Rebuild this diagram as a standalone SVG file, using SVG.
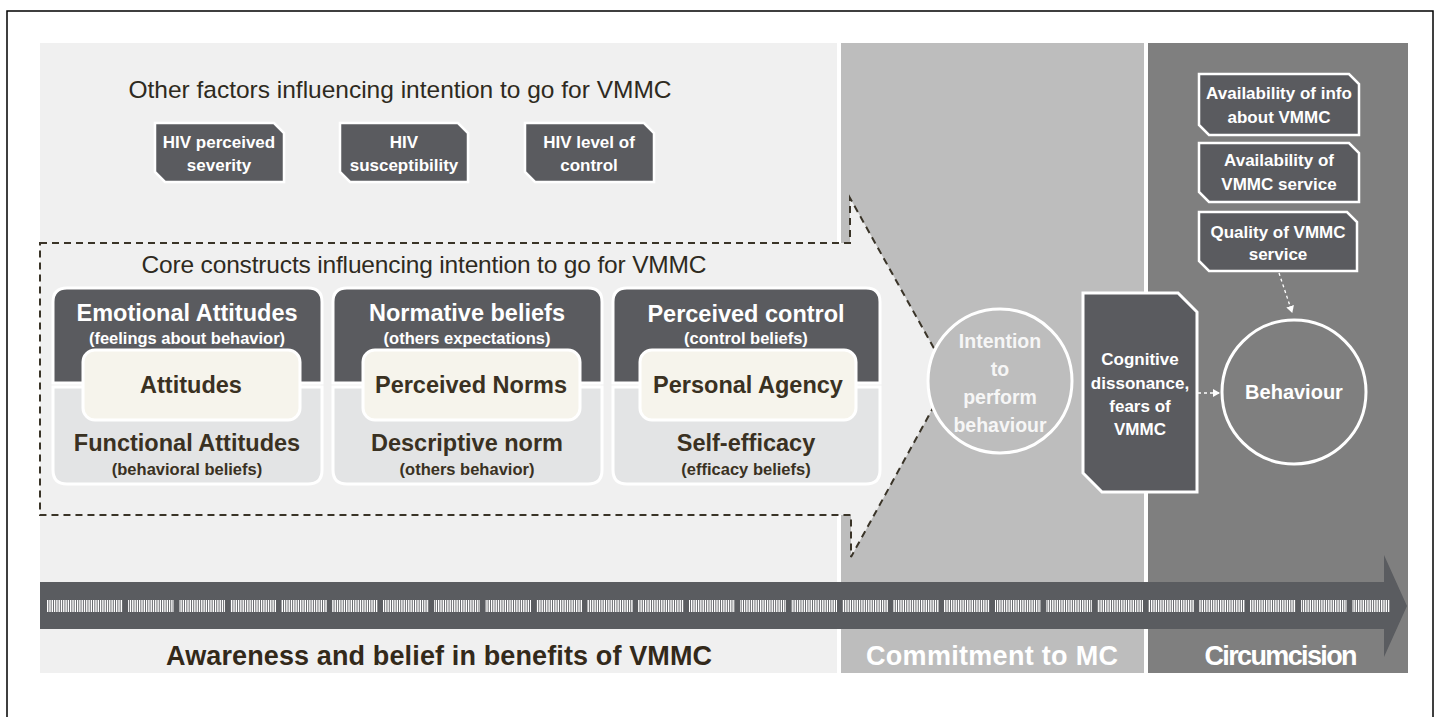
<svg xmlns="http://www.w3.org/2000/svg" width="1444" height="717" viewBox="0 0 1444 717">
<style>
text{font-family:"Liberation Sans",Arial,sans-serif;text-anchor:middle}
.b{font-weight:bold}
.w{fill:#ffffff}
.d{fill:#3a3122}
.dark{fill:#5a5b5f;stroke:#ffffff;stroke-width:3}
.light{fill:#e3e4e5;stroke:#ffffff;stroke-width:3}
.cream{fill:#f6f4ec;stroke:#ffffff;stroke-width:3}
.tag{fill:#5a5b5f;stroke:#ffffff;stroke-width:2.5}
.h{font-size:23.5px}
.s{font-size:16.5px}
.c{font-size:23.5px}
.t{font-size:17px}
</style>
<defs>
<marker id="wa" markerWidth="8" markerHeight="8" refX="6" refY="4" orient="auto" markerUnits="userSpaceOnUse">
<path d="M0,0 L7,4 L0,8 Z" fill="#ffffff"/>
</marker>
</defs>
<rect x="0" y="0" width="1444" height="717" fill="#ffffff"/>
<rect x="7" y="11" width="1426" height="712" fill="none" stroke="#000000" stroke-width="1.5"/>
<g id="panels">
<rect x="40" y="43" width="797" height="630" fill="#f0f0f0"/>
<rect x="841" y="43" width="303" height="630" fill="#bdbdbd"/>
<rect x="1148" y="43" width="260" height="630" fill="#7f7f7f"/>
</g>
<g id="other-factors">
<text x="400" y="98" style="font-size:24.5px;fill:#2e2a20" textLength="543">Other factors influencing intention to go for VMMC</text>
<g id="n-severity"><path class="tag" d="M155,123 H274 L284,133 V182 H165 L155,172 Z"/>
<text class="b w t" x="219" y="148">HIV perceived</text><text class="b w t" x="219" y="171">severity</text></g>
<g id="n-susceptibility"><path class="tag" d="M340,123 H458 L468,133 V182 H350 L340,172 Z"/>
<text class="b w t" x="404" y="148">HIV</text><text class="b w t" x="404" y="171">susceptibility</text></g>
<g id="n-control"><path class="tag" d="M525,123 H644 L654,133 V182 H535 L525,172 Z"/>
<text class="b w t" x="589" y="148">HIV level of</text><text class="b w t" x="589" y="171">control</text></g>
</g>
<g id="core-arrow">
<path d="M40,243 H850 V198 L950,377 L851,557 V515 H40 Z" fill="#f0f0f0" stroke="#3a3428" stroke-width="2" stroke-dasharray="7 5"/>
<text x="424" y="273" style="font-size:24.5px;fill:#2e2a20" textLength="565">Core constructs influencing intention to go for VMMC</text>
</g>
<g id="card-attitudes">
<path class="dark" d="M53,383 V302 Q53,288 67,288 H308 Q322,288 322,302 V383 Z"/>
<path class="light" d="M53,387 H322 V470 Q322,484 308,484 H67 Q53,484 53,470 Z"/>
<rect class="cream" x="83" y="350" width="217" height="70" rx="12"/>
<text class="b w h" x="187" y="321">Emotional Attitudes</text>
<text class="b w s" x="187" y="344">(feelings about behavior)</text>
<text class="b d c" x="191" y="393">Attitudes</text>
<text class="b d h" x="187" y="451">Functional Attitudes</text>
<text class="b d s" x="187" y="475">(behavioral beliefs)</text>
</g>
<g id="card-norms">
<path class="dark" d="M333,383 V302 Q333,288 347,288 H588 Q602,288 602,302 V383 Z"/>
<path class="light" d="M333,387 H602 V470 Q602,484 588,484 H347 Q333,484 333,470 Z"/>
<rect class="cream" x="363" y="350" width="217" height="70" rx="12"/>
<text class="b w h" x="467" y="321">Normative beliefs</text>
<text class="b w s" x="467" y="344">(others expectations)</text>
<text class="b d c" x="471" y="393">Perceived Norms</text>
<text class="b d h" x="467" y="451">Descriptive norm</text>
<text class="b d s" x="467" y="475">(others behavior)</text>
</g>
<g id="card-agency">
<path class="dark" d="M613,383 V302 Q613,288 627,288 H866 Q880,288 880,302 V383 Z"/>
<path class="light" d="M613,387 H880 V470 Q880,484 866,484 H627 Q613,484 613,470 Z"/>
<rect class="cream" x="640" y="350" width="216" height="70" rx="12"/>
<text class="b w h" x="746" y="322">Perceived control</text>
<text class="b w s" x="746" y="344">(control beliefs)</text>
<text class="b d c" x="748" y="393">Personal Agency</text>
<text class="b d h" x="746" y="451">Self-efficacy</text>
<text class="b d s" x="746" y="475">(efficacy beliefs)</text>
</g>
<g id="n-intention">
<circle cx="1000" cy="381" r="72" fill="#bdbdbd" stroke="#ffffff" stroke-width="3"/>
<text class="b" x="1000" y="348" style="font-size:19.5px;fill:#f6f6f6">Intention</text>
<text class="b" x="1000" y="376" style="font-size:19.5px;fill:#f6f6f6">to</text>
<text class="b" x="1000" y="404" style="font-size:19.5px;fill:#f6f6f6">perform</text>
<text class="b" x="1000" y="432" style="font-size:19.5px;fill:#f6f6f6">behaviour</text>
</g>
<g id="n-cognitive">
<path d="M1083,293 H1178 L1197,312 V492 H1102 L1083,473 Z" fill="#5a5b5f" stroke="#ffffff" stroke-width="3"/>
<text class="b w" x="1140" y="365" style="font-size:17px">Cognitive</text>
<text class="b w" x="1140" y="389" style="font-size:17px">dissonance,</text>
<text class="b w" x="1140" y="412" style="font-size:17px">fears of</text>
<text class="b w" x="1140" y="435" style="font-size:17px">VMMC</text>
</g>
<g id="n-info"><path class="tag" d="M1199,74 H1349 L1359,84 V135 H1209 L1199,125 Z"/>
<text class="b w t" x="1279" y="99">Availability of info</text><text class="b w t" x="1279" y="123">about VMMC</text></g>
<g id="n-availability"><path class="tag" d="M1199,143 H1349 L1359,153 V202 H1209 L1199,192 Z"/>
<text class="b w t" x="1279" y="166">Availability of</text><text class="b w t" x="1279" y="190">VMMC service</text></g>
<g id="n-quality"><path class="tag" d="M1199,212 H1347 L1357,222 V271 H1209 L1199,261 Z"/>
<text class="b w t" x="1278" y="238">Quality of VMMC</text><text class="b w t" x="1278" y="260">service</text></g>
<g id="n-behaviour">
<circle cx="1294" cy="392" r="72" fill="#7f7f7f" stroke="#ffffff" stroke-width="3"/>
<text class="b w" x="1294" y="399" style="font-size:20px">Behaviour</text>
</g>
<g id="connectors" fill="none" stroke="#ffffff" stroke-width="1.3" stroke-dasharray="3 3">
<line x1="1198" y1="393" x2="1219" y2="393" marker-end="url(#wa)"/>
<line x1="1279" y1="273" x2="1292" y2="312" marker-end="url(#wa)"/>
</g>
<g id="timeline">
<path d="M40,582 H1384 V555 L1407,606 L1384,657 V629 H40 Z" fill="#5a5c60"/>
<line x1="47" y1="606" x2="1390" y2="606" stroke="#ffffff" stroke-width="12" stroke-dasharray="1.4 0.9"/>
<line x1="120" y1="606" x2="1392" y2="606" stroke="#5a5c60" stroke-width="14" stroke-dasharray="5 46" stroke-dashoffset="48"/>
<text class="b" x="439" y="665" style="font-size:27px;fill:#33291a" textLength="546">Awareness and belief in benefits of VMMC</text>
<text class="b w" x="992" y="665" style="font-size:27px" textLength="252">Commitment to MC</text>
<text class="b w" x="1281" y="665" style="font-size:27px" textLength="153">Circumcision</text>
</g>
</svg>
